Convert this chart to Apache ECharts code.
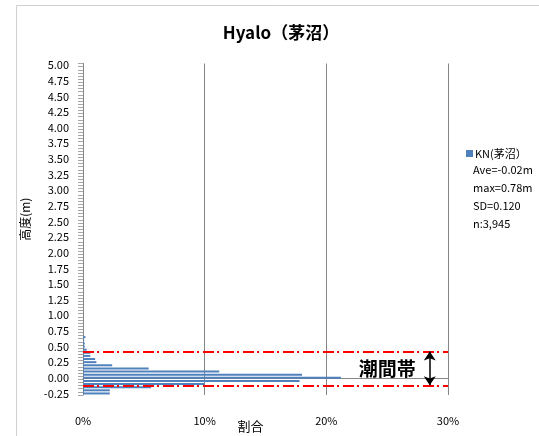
<!DOCTYPE html>
<html><head><meta charset="utf-8">
<script src="https://cdn.jsdelivr.net/npm/echarts@6/dist/echarts.min.js"></script>
<style>html,body{margin:0;padding:0;background:#fff}#c{width:539px;height:436px}</style>
</head><body><div id="c"></div>
<script>
// Histogram bins (m) and share (%)
const binStart = -0.25, binStep = 0.05, binCount = 106; // -0.25 .. 5.00
const heights = [];
for (let i = 0; i < binCount; i++) heights.push((binStart + i * binStep).toFixed(2));
const shareValues = [2.2, 2.2, 5.6, 10.0, 17.8, 21.2, 18.0, 11.2, 5.4, 2.4, 1.1, 1.0, 0.6, 0.6, 0.3, 0.15, 0.15, 0.1, 0.2];
const xTicks = [0, 10, 20, 30];
const tideLevels = [0.42, -0.12];
const statsLines = ['Ave=-0.02m', 'max=0.78m', 'SD=0.120', 'n:3,945'];
const seriesName = 'KN(茅沼）';

const data = heights.map((h, i) => i < shareValues.length ? shareValues[i] : 0);
const FONT = '"Noto Sans CJK JP", "Noto Sans", sans-serif';
const chart = echarts.init(document.getElementById('c'));
chart.setOption({
  animation: false,
  textStyle: { fontFamily: FONT },
  title: { text: 'Hyalo（茅沼）', left: 276, top: 19, textAlign: 'center',
    textStyle: { fontSize: 17, fontWeight: 'bold', color: '#000', fontFamily: FONT } },
  legend: { data: [seriesName], left: 461, top: 143, icon: 'rect', itemWidth: 7, itemHeight: 7, itemGap: 2,
    textStyle: { fontSize: 11, color: '#000', fontFamily: FONT, padding: [0,0,0,-3] } },
  grid: { left: 83, right: 91, top: 63.5, bottom: 41, containLabel: false, outerBoundsMode: 'none' },
  xAxis: { type: 'value', min: 0, max: 30, interval: 10,
    axisLine: { show: true, lineStyle: { color: '#868686' } },
    axisTick: { show: true, length: 5, lineStyle: { color: '#868686' } },
    splitLine: { show: true, lineStyle: { color: '#868686' } },
    axisLabel: { formatter: v => v + '%', margin: 20, fontSize: 11, color: '#000', fontFamily: FONT },
    name: '割合', nameLocation: 'middle', nameGap: 25, nameMoveOverlap: false,
    nameTextStyle: { fontSize: 13, color: '#000', fontFamily: FONT, padding: [0, 0, 0, -30] } },
  yAxis: [{ type: 'category', data: heights, boundaryGap: true,
    axisLine: { show: true, lineStyle: { color: '#868686' } },
    axisTick: { show: true, interval: 0, length: 5, lineStyle: { color: '#A6A6A6' } },
    axisLabel: { interval: 4, margin: 14, fontSize: 11, color: '#000', fontFamily: FONT },
    splitLine: { show: false },
    name: '高度(m)', nameLocation: 'middle', nameGap: 52, nameRotate: 90, nameMoveOverlap: false,
    nameTextStyle: { fontSize: 12, color: '#000', fontFamily: FONT, padding: [0, 0, 0, 20] } },
  { type: 'value', min: binStart - binStep / 2, max: binStart + (binCount - 0.5) * binStep, show: false }],
  series: [{
    name: seriesName, type: 'bar', data: data, barWidth: 2,
    itemStyle: { color: '#4F81BD' }
  }, {
    type: 'scatter', xAxisIndex: 0, yAxisIndex: 1, data: [[0, binStart]], symbolSize: 0, silent: true,
    markLine: { silent: true, symbol: 'none', label: { show: false },
      lineStyle: { color: '#FF0000', width: 1.8, type: [11, 3, 2, 4] },
      data: tideLevels.map(v => ({ yAxis: v })) }
  }, {
    type: 'scatter', xAxisIndex: 0, yAxisIndex: 1, data: [[0, binStart]], symbolSize: 0, silent: true,
    markLine: { silent: true, symbol: ['arrow', 'arrow'], symbolSize: [9, 9], label: { show: false },
      lineStyle: { color: '#000', width: 1.5, type: 'solid' },
      data: [[{ coord: [28.5, tideLevels[0]] }, { coord: [28.5, tideLevels[1]] }]] },
    markPoint: { silent: true, symbol: 'rect', symbolSize: 0,
      label: { show: true, position: 'inside', formatter: '潮間帯', fontSize: 19, fontWeight: 'bold', color: '#000', fontFamily: FONT },
      data: [{ coord: [25.0, (tideLevels[0] + tideLevels[1]) / 2] }] }
  }],
  graphic: [
    { type: 'rect', shape: { x: 16.5, y: 5.5, width: 600, height: 500 }, style: { fill: 'none', stroke: '#D0D0D0', lineWidth: 1 }, z: -10 },
    { type: 'text', left: 473, top: 161, style: { text: statsLines.join('\n'), fontSize: 11, lineHeight: 18, fill: '#000', fontFamily: FONT } }
  ]
});
</script></body></html>
